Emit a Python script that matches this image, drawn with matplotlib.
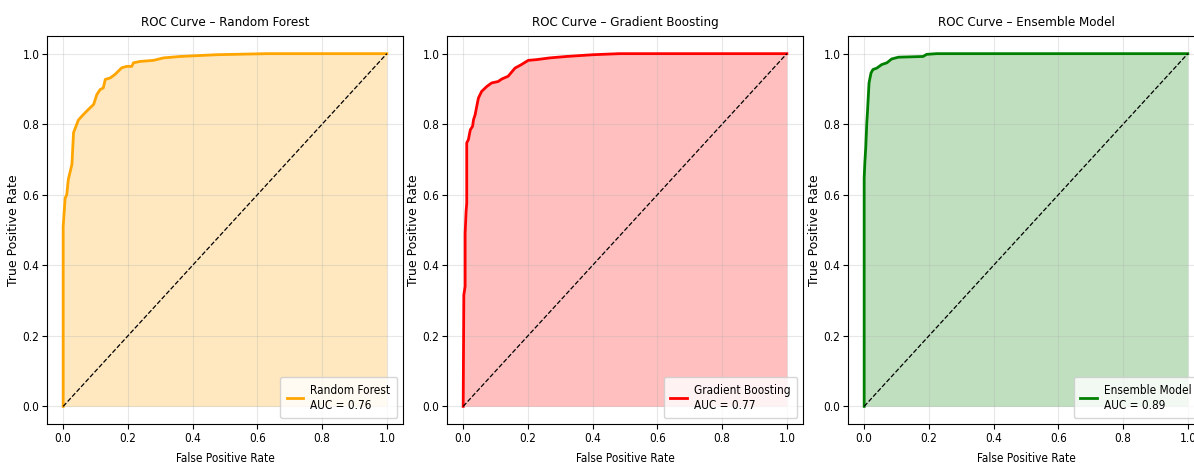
import numpy as np
import matplotlib.pyplot as plt

plt.rcParams['font.family'] = ['DejaVu Sans']
plt.rcParams['font.stretch'] = 'condensed'

# ROC points
rf_fpr = [0.0, 0.0, 0.006, 0.011, 0.016, 0.027, 0.032, 0.047, 0.063, 0.078, 0.094,
          0.104, 0.114, 0.124, 0.130, 0.145, 0.160, 0.181, 0.197, 0.212, 0.217,
          0.238, 0.279, 0.310, 0.361, 0.474, 0.629, 1.0]
rf_tpr = [0.0, 0.51, 0.59, 0.60, 0.644, 0.686, 0.776, 0.812, 0.828, 0.842, 0.856,
          0.884, 0.898, 0.903, 0.927, 0.931, 0.941, 0.960, 0.964, 0.964, 0.974,
          0.978, 0.981, 0.988, 0.992, 0.997, 1.0, 1.0]

gb_fpr = [0.0, 0.002, 0.006, 0.006, 0.009, 0.011, 0.011, 0.016, 0.022, 0.029, 0.032,
          0.037, 0.042, 0.047, 0.057, 0.073, 0.088, 0.108, 0.119, 0.139, 0.149,
          0.160, 0.180, 0.201, 0.226, 0.268, 0.319, 0.401, 0.483, 1.0]
gb_tpr = [0.0, 0.316, 0.34, 0.49, 0.553, 0.576, 0.747, 0.756, 0.784, 0.794, 0.813,
          0.827, 0.851, 0.874, 0.893, 0.907, 0.917, 0.921, 0.928, 0.936, 0.947,
          0.959, 0.969, 0.981, 0.983, 0.988, 0.992, 0.997, 1.0, 1.0]

en_fpr = [0.0, 0.0, 0.002, 0.005, 0.008, 0.010, 0.015, 0.021, 0.027, 0.039, 0.054,
          0.070, 0.085, 0.106, 0.182, 0.193, 0.224, 1.0]
en_tpr = [0.0, 0.647, 0.69, 0.737, 0.803, 0.832, 0.917, 0.945, 0.955, 0.959, 0.969,
          0.974, 0.985, 0.990, 0.992, 0.998, 1.0, 1.0]

models = ['Random Forest', 'Gradient Boosting', 'Ensemble Model']
aucs = [0.76, 0.77, 0.89]
colors = ['orange', 'red', 'green']
curves = [(rf_fpr, rf_tpr), (gb_fpr, gb_tpr), (en_fpr, en_tpr)]

fig = plt.figure(figsize=(11.94, 4.63), dpi=100)
lefts = [47 / 1194, 447 / 1194, 848 / 1194]

for left, name, auc, col, (fpr, tpr) in zip(lefts, models, aucs, colors, curves):
    ax = fig.add_axes([left, 0.0842, 356 / 1194, 0.838])
    ax.plot(fpr, tpr, color=col, lw=2, label=f'{name}\nAUC = {auc:.2f}')
    ax.fill_between(fpr, tpr, color=col, alpha=0.25, lw=0)
    ax.plot([0, 1], [0, 1], 'k--', lw=0.9)
    ax.set_title(f'ROC Curve – {name}', fontsize=9.5, pad=7)
    ax.set_xlabel('False Positive Rate', fontsize=8.5, labelpad=5)
    ax.set_ylabel('True Positive Rate', fontsize=9, fontstretch='normal',
                  labelpad=2)
    ax.tick_params(labelsize=8.5, pad=2)
    ax.grid(alpha=0.3)
    ax.legend(loc='lower right', fontsize=8.5, handlelength=1.4,
              handletextpad=0.6, borderpad=0.55)

plt.savefig('out.png', dpi=100)
